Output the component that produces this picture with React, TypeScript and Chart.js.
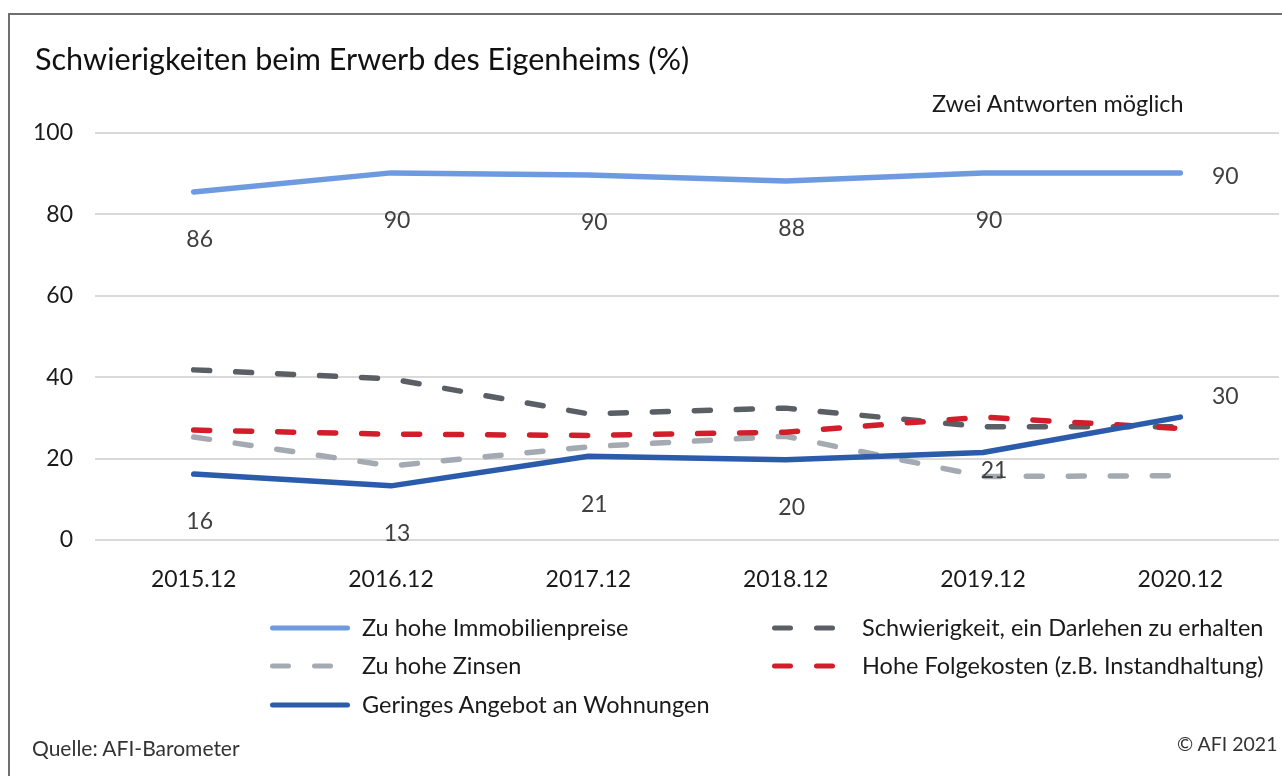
import React, { useEffect, useRef } from "react";
import { Chart, registerables } from "chart.js";

Chart.register(...registerables);

const FONT = 'Lato, "Liberation Sans", sans-serif';

const categories = ["2015.12", "2016.12", "2017.12", "2018.12", "2019.12", "2020.12"];
const immobilienpreise = [85.5, 90.2, 89.7, 88.2, 90.2, 90.2];
const darlehen = [41.8, 39.6, 31.0, 32.4, 27.8, 27.8];
const zinsen = [25.3, 18.2, 22.9, 25.5, 15.6, 15.8];
const folgekosten = [27.0, 26.0, 25.7, 26.5, 30.2, 27.4];
const angebot = [16.2, 13.3, 20.6, 19.7, 21.5, 30.2];
const immobilienLabels = ["86", "90", "90", "88", "90", "90"];
const angebotLabels = ["16", "13", "21", "20", "21", "30"];
const yTicks = [0, 20, 40, 60, 80, 100];

const immobilienPlacement = ["below", "below", "below", "below", "below", "right"];
const angebotPlacement = ["below", "below", "below", "below", "belowRight", "rightAbove"];

const SOLID: number[] = [];
const DASH = [16, 26];

const series = [
  { label: "Zu hohe Immobilienpreise", data: immobilienpreise, color: "#6e9be0", dash: SOLID, order: 2, labels: immobilienLabels, placement: immobilienPlacement, legendCol: 0, legendRow: 0 },
  { label: "Schwierigkeit, ein Darlehen zu erhalten", data: darlehen, color: "#5a5f66", dash: DASH, order: 4, labels: null, placement: null, legendCol: 1, legendRow: 0 },
  { label: "Zu hohe Zinsen", data: zinsen, color: "#a4aab1", dash: DASH, order: 5, labels: null, placement: null, legendCol: 0, legendRow: 1 },
  { label: "Hohe Folgekosten (z.B. Instandhaltung)", data: folgekosten, color: "#d21e2b", dash: DASH, order: 3, labels: null, placement: null, legendCol: 1, legendRow: 1 },
  { label: "Geringes Angebot an Wohnungen", data: angebot, color: "#2b5bab", dash: SOLID, order: 1, labels: angebotLabels, placement: angebotPlacement, legendCol: 0, legendRow: 2 },
];

const labelPlugin = {
  id: "pointValueLabels",
  afterDatasetsDraw(chart: any) {
    const ctx = chart.ctx;
    ctx.save();
    ctx.font = `23px ${FONT}`;
    ctx.fillStyle = "#404040";
    ctx.textAlign = "center";
    ctx.textBaseline = "middle";
    series.forEach((s, di) => {
      if (!s.labels || !s.placement) return;
      const meta = chart.getDatasetMeta(di);
      meta.data.forEach((pt: any, i: number) => {
        let x = pt.x;
        let y = pt.y;
        const p = s.placement![i];
        if (p === "below") { x += 6; y += 48; }
        else if (p === "right") { x += 45; y += 4; }
        else if (p === "rightAbove") { x += 45; y -= 21; }
        else if (p === "belowRight") { x += 11; y += 18; }
        ctx.fillText(s.labels![i], x, y);
      });
    });
    ctx.restore();
  },
};

function LegendSample({ color, dash }: { color: string; dash: number[] }) {
  return (
    <svg width={80} height={10} style={{ display: "block" }}>
      <line
        x1={2.5}
        y1={5}
        x2={dash.length ? 66 : 77.5}
        y2={5}
        stroke={color}
        strokeWidth={5}
        strokeLinecap="round"
        strokeDasharray={dash.length ? dash.join(" ") : undefined}
      />
    </svg>
  );
}

export default function App() {
  const canvasRef = useRef<HTMLCanvasElement | null>(null);

  useEffect(() => {
    if (!canvasRef.current) return;
    const chart = new Chart(canvasRef.current, {
      type: "line",
      data: {
        labels: categories,
        datasets: series.map((s) => ({
          label: s.label,
          data: s.data,
          borderColor: s.color,
          backgroundColor: s.color,
          borderWidth: 5.5,
          borderDash: s.dash,
          borderCapStyle: "round" as const,
          borderJoinStyle: "round" as const,
          pointRadius: 0,
          pointHoverRadius: 0,
          tension: 0,
          fill: false,
          order: s.order,
        })),
      },
      options: {
        responsive: false,
        animation: false,
        devicePixelRatio: 1,
        layout: { padding: { top: 133, right: 3, left: 0, bottom: 0 } },
        plugins: {
          legend: { display: false },
          tooltip: { enabled: false },
          title: { display: false },
        },
        scales: {
          x: {
            type: "category",
            offset: true,
            grid: { display: false, drawTicks: false },
            border: { display: false },
            ticks: {
              padding: 26,
              color: "#1a1a1a",
              font: { family: FONT, size: 23 },
              maxRotation: 0,
            },
            afterFit: (scale: any) => { scale.height = 236; },
          },
          y: {
            min: 0,
            max: 100,
            afterBuildTicks: (scale: any) => { scale.ticks = yTicks.map((v) => ({ value: v })); },
            grid: { color: "#d9d9d9", lineWidth: 2, drawTicks: false },
            border: { display: false },
            ticks: {
              padding: 22,
              color: "#1a1a1a",
              font: { family: FONT, size: 23 },
            },
            afterFit: (scale: any) => { scale.width = 95; },
          },
        },
      },
      plugins: [labelPlugin],
    });
    return () => chart.destroy();
  }, []);

  const rowTops = [616, 654, 693];
  const colSampleX = [270, 772];
  const colTextX = [362, 862];

  return (
    <div style={{ position: "absolute", left: 0, top: 0, width: 1282, height: 776, background: "#fff", overflow: "hidden", fontFamily: FONT, color: "#1a1a1a" }}>
      <div style={{ position: "absolute", left: 8, top: 13, width: 1300, height: 800, borderTop: "2px solid #6f6f6f", borderLeft: "2px solid #6f6f6f" }} />
      <canvas ref={canvasRef} width={1282} height={776} style={{ position: "absolute", left: 0, top: 0, width: 1282, height: 776 }} />
      <div style={{ position: "absolute", left: 35, top: 44, fontSize: 30.6, lineHeight: 1, whiteSpace: "nowrap", color: "#111" }}>
        Schwierigkeiten beim Erwerb des Eigenheims (%)
      </div>
      <div style={{ position: "absolute", left: 932, top: 92, fontSize: 23.4, lineHeight: 1, whiteSpace: "nowrap" }}>
        Zwei Antworten möglich
      </div>
      {series.map((s) => (
        <React.Fragment key={s.label}>
          <div style={{ position: "absolute", left: colSampleX[s.legendCol], top: rowTops[s.legendRow] + 7 }}>
            <LegendSample color={s.color} dash={s.dash} />
          </div>
          <div style={{ position: "absolute", left: colTextX[s.legendCol], top: rowTops[s.legendRow], fontSize: 23.5, lineHeight: 1, whiteSpace: "nowrap" }}>
            {s.label}
          </div>
        </React.Fragment>
      ))}
      <div style={{ position: "absolute", left: 32, top: 737, fontSize: 21, lineHeight: 1, whiteSpace: "nowrap", color: "#333" }}>
        Quelle: AFI-Barometer
      </div>
      <div style={{ position: "absolute", left: 1177, top: 734, fontSize: 19.5, lineHeight: 1, whiteSpace: "nowrap", color: "#333" }}>
        © AFI 2021
      </div>
    </div>
  );
}
